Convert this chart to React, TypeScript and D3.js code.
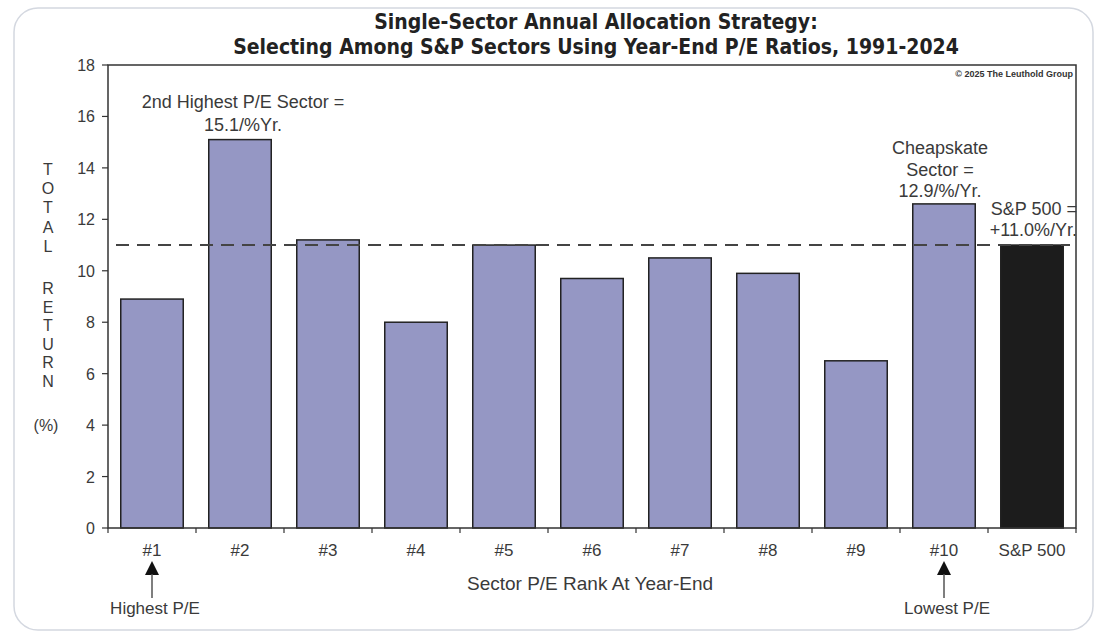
import React from "react";
import * as d3 from "d3";

const categories = ["#1", "#2", "#3", "#4", "#5", "#6", "#7", "#8", "#9", "#10", "S&P 500"];
const values = [8.9, 15.1, 11.2, 8.0, 11.0, 9.7, 10.5, 9.9, 6.5, 12.6, 11.0];
const yTicks = [0, 2, 4, 6, 8, 10, 12, 14, 16, 18];
const benchmark = 11.0;
const yLabelTop = ["T", "O", "T", "A", "L"];
const yLabelBottom = ["R", "E", "T", "U", "R", "N"];

const W = 1100;
const H = 638;
const left = 108;
const right = 1076;
const top = 65;
const bottom = 528;

export default function App() {
  const x = d3.scaleBand<string>().domain(categories).range([left, right]).paddingInner(0.29).paddingOuter(0.145);
  const xEdge = d3.scaleLinear().domain([0, categories.length]).range([left, right]);
  const y = d3.scaleLinear().domain([0, 18]).range([bottom, top]);
  const font = "'Liberation Sans', Arial, sans-serif";
  const titleFont = "'Liberation Sans Narrow', 'DejaVu Sans Condensed', sans-serif";
  const gray = "#3a3a3a";
  const cx = (c: string) => (x(c) as number) + x.bandwidth() / 2;

  return (
    <svg width={W} height={H} style={{ position: "absolute", left: 0, top: 0 }} fontFamily={font}>
      <rect x={0} y={0} width={W} height={H} fill="#ffffff" />
      <rect x={14} y={8} width={1079} height={622} rx={24} fill="#fff" stroke="#d4d8e0" strokeWidth={1.5} />
      <text x={596} y={29} textAnchor="middle" fontFamily={titleFont} fontWeight="bold" fontSize={21} fill="#222">
        Single-Sector Annual Allocation Strategy:
      </text>
      <text x={596} y={54} textAnchor="middle" fontFamily={titleFont} fontWeight="bold" fontSize={21} fill="#222">
        Selecting Among S&amp;P Sectors Using Year-End P/E Ratios, 1991-2024
      </text>
      {/* bars */}
      {categories.map((c, i) => (
        <rect
          key={c}
          x={x(c)}
          y={y(values[i])}
          width={x.bandwidth()}
          height={y(0) - y(values[i])}
          fill={i === categories.length - 1 ? "#1c1c1c" : "#9597c4"}
          stroke="#222"
          strokeWidth={1.5}
        />
      ))}
      {/* benchmark dashed line */}
      <line x1={left + 8} x2={right - 6} y1={y(benchmark)} y2={y(benchmark)} stroke="#444" strokeWidth={2} strokeDasharray="13 8" />
      {/* frame */}
      <rect x={left} y={top} width={right - left} height={bottom - top} fill="none" stroke="#333" strokeWidth={1.5} />
      {/* y ticks */}
      {yTicks.map((t) => (
        <g key={t}>
          <line x1={left - 6} x2={left} y1={y(t)} y2={y(t)} stroke="#333" strokeWidth={1.2} />
          <text x={left - 13} y={y(t) + 6} textAnchor="end" fontSize={16} fill={gray}>
            {t}
          </text>
        </g>
      ))}
      {/* x ticks */}
      {d3.range(0, categories.length + 1).map((k) => (
        <line key={k} x1={xEdge(k)} x2={xEdge(k)} y1={bottom} y2={bottom + 5} stroke="#333" strokeWidth={1.2} />
      ))}
      {categories.map((c) => (
        <text key={c} x={cx(c)} y={556} textAnchor="middle" fontSize={17} fill={gray}>
          {c}
        </text>
      ))}
      <text x={590} y={590} textAnchor="middle" fontSize={19} fill={gray}>
        Sector P/E Rank At Year-End
      </text>
      {/* arrows */}
      {[
        { c: categories[0], label: "Highest P/E" },
        { c: categories[9], label: "Lowest P/E" },
      ].map((a) => (
        <g key={a.label}>
          <path d={`M${cx(a.c)},${561} L${cx(a.c) - 7},${575} L${cx(a.c) + 7},${575} Z`} fill="#111" />
          <line x1={cx(a.c)} x2={cx(a.c)} y1={574} y2={598} stroke="#555" strokeWidth={1.5} />
          <text x={cx(a.c) + 3} y={614} textAnchor="middle" fontSize={17} fill={gray}>
            {a.label}
          </text>
        </g>
      ))}
      {/* y label */}
      {yLabelTop.map((ch, i) => (
        <text key={"t" + i} x={48} y={175 + i * 19.2} textAnchor="middle" fontSize={16} fill={gray}>
          {ch}
        </text>
      ))}
      {yLabelBottom.map((ch, i) => (
        <text key={"b" + i} x={48} y={294 + i * 18.6} textAnchor="middle" fontSize={16} fill={gray}>
          {ch}
        </text>
      ))}
      <text x={46} y={431} textAnchor="middle" fontSize={16} fill={gray}>
        (%)
      </text>
      {/* annotations */}
      <text x={243} y={108} textAnchor="middle" fontSize={18} fill={gray}>
        2nd Highest P/E Sector =
      </text>
      <text x={243} y={131} textAnchor="middle" fontSize={18} fill={gray}>
        15.1/%Yr.
      </text>
      <text x={940} y={154} textAnchor="middle" fontSize={18} fill={gray}>
        Cheapskate
      </text>
      <text x={940} y={176} textAnchor="middle" fontSize={18} fill={gray}>
        Sector =
      </text>
      <text x={940} y={197} textAnchor="middle" fontSize={18} fill={gray}>
        12.9/%/Yr.
      </text>
      <text x={1077} y={215} textAnchor="end" fontSize={18} fill={gray}>
        S&amp;P 500 =
      </text>
      <text x={1077} y={236} textAnchor="end" fontSize={18} fill={gray}>
        +11.0%/Yr.
      </text>
      <text x={1073} y={77} textAnchor="end" fontSize={9} fontWeight="bold" fill="#333">
        © 2025 The Leuthold Group
      </text>
    </svg>
  );
}
